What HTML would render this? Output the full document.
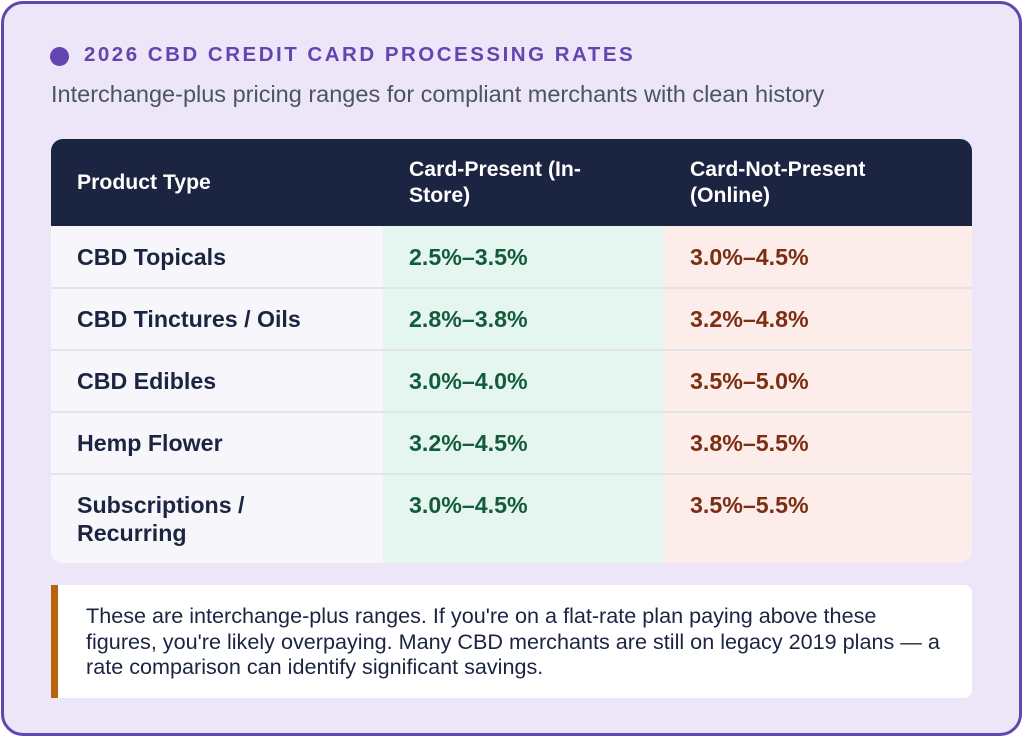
<!DOCTYPE html>
<html><head><meta charset="utf-8"><style>
*{margin:0;padding:0;box-sizing:border-box}
body{width:1024px;height:739px;background:#fff;font-family:"Liberation Sans",Arial,sans-serif;overflow:hidden}
.card{position:absolute;left:1px;top:1px;width:1021px;height:735px;border:3px solid #6345b0;border-radius:22px;background:#ede6f8}
.dot{position:absolute;left:50px;top:47px;width:19px;height:19px;border-radius:50%;background:#6345b0}
.title{position:absolute;left:84px;top:43px;font-size:20.5px;font-weight:bold;letter-spacing:2.5px;color:#6345b0}
.sub{position:absolute;left:51px;top:81px;font-size:23.5px;color:#4a5563}
table{position:absolute;left:51px;top:139px;width:921px;border-collapse:collapse;border-radius:12px;overflow:hidden}
th{background:#1b2440;color:#fff;text-align:left;font-size:21.2px;font-weight:bold;height:87px;padding:0 26px;line-height:26px;vertical-align:middle}
td{font-size:23.2px;font-weight:bold;height:62px;padding:0 26px;border-top:2px solid #e3e3ec;line-height:28px}
td.a{background:#f7f7fb;color:#1b2440;width:332px}
td.b{background:#e5f5ef;color:#135c3b;width:281px}
td.c{background:#fcedeb;color:#7b2e12}
tr.last td{height:89px;vertical-align:top;padding-top:16px}
.note{position:absolute;left:51px;top:585px;width:921px;height:113px;background:#fff;border-left:7px solid #b5650d;border-radius:0 8px 8px 0;padding:18px 28px;font-size:21.6px;line-height:25.5px;color:#1b2440;white-space:nowrap}
</style></head><body>
<div class="card"></div>
<div class="dot"></div>
<div class="title">2026 CBD CREDIT CARD PROCESSING RATES</div>
<div class="sub">Interchange-plus pricing ranges for compliant merchants with clean history</div>
<table>
<tr><th style="width:332px">Product Type</th><th style="width:281px">Card-Present (In-<br>Store)</th><th>Card-Not-Present<br>(Online)</th></tr>
<tr><td class="a" style="border-top:none">CBD Topicals</td><td class="b" style="border-top:none">2.5%–3.5%</td><td class="c" style="border-top:none">3.0%–4.5%</td></tr>
<tr><td class="a">CBD Tinctures / Oils</td><td class="b">2.8%–3.8%</td><td class="c">3.2%–4.8%</td></tr>
<tr><td class="a">CBD Edibles</td><td class="b">3.0%–4.0%</td><td class="c">3.5%–5.0%</td></tr>
<tr><td class="a">Hemp Flower</td><td class="b">3.2%–4.5%</td><td class="c">3.8%–5.5%</td></tr>
<tr class="last"><td class="a">Subscriptions /<br>Recurring</td><td class="b">3.0%–4.5%</td><td class="c">3.5%–5.5%</td></tr>
</table>
<div class="note">These are interchange-plus ranges. If you're on a flat-rate plan paying above these<br>figures, you're likely overpaying. Many CBD merchants are still on legacy 2019 plans — a<br>rate comparison can identify significant savings.</div>
</body></html>
